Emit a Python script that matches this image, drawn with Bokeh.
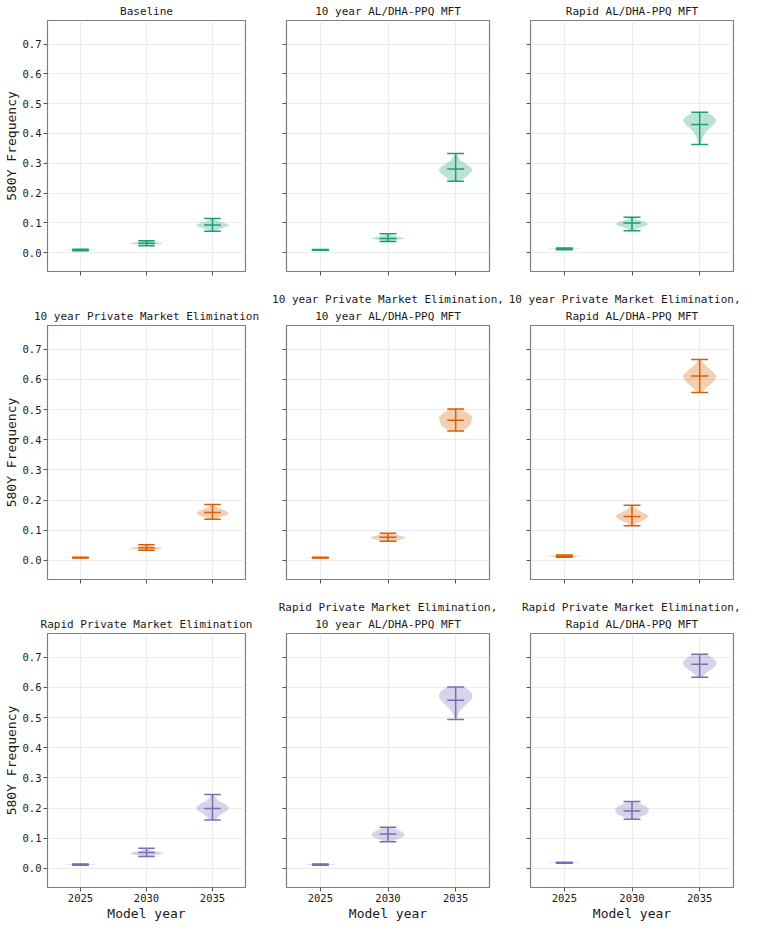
from bokeh.plotting import figure
from bokeh.layouts import column, row
from bokeh.models import Range1d, FixedTicker, CustomJSTickFormatter, NumeralTickFormatter, Title
from bokeh.embed import file_html
from bokeh.resources import INLINE

# ---------------- data ----------------
years = [2025, 2030, 2035]
y_ticks = [0.0, 0.1, 0.2, 0.3, 0.4, 0.5, 0.6, 0.7]

panel_titles = [
    "Baseline",
    "10 year AL/DHA-PPQ MFT",
    "Rapid AL/DHA-PPQ MFT",
    "10 year Private Market Elimination",
    "10 year Private Market Elimination,\n10 year AL/DHA-PPQ MFT",
    "10 year Private Market Elimination,\nRapid AL/DHA-PPQ MFT",
    "Rapid Private Market Elimination",
    "Rapid Private Market Elimination,\n10 year AL/DHA-PPQ MFT",
    "Rapid Private Market Elimination,\nRapid AL/DHA-PPQ MFT",
]

# 580Y frequency per panel, per model year (2025, 2030, 2035)
freq_min = [
    [0.007, 0.023, 0.072],
    [0.008, 0.038, 0.240],
    [0.010, 0.074, 0.363],
    [0.008, 0.034, 0.137],
    [0.008, 0.064, 0.429],
    [0.011, 0.115, 0.557],
    [0.011, 0.040, 0.161],
    [0.011, 0.089, 0.494],
    [0.017, 0.163, 0.634],
]
freq_median = [
    [0.010, 0.032, 0.093],
    [0.0095, 0.048, 0.281],
    [0.013, 0.100, 0.430],
    [0.009, 0.042, 0.159],
    [0.009, 0.077, 0.465],
    [0.014, 0.146, 0.612],
    [0.013, 0.053, 0.199],
    [0.013, 0.114, 0.558],
    [0.019, 0.191, 0.677],
]
freq_max = [
    [0.012, 0.040, 0.115],
    [0.011, 0.064, 0.333],
    [0.016, 0.119, 0.471],
    [0.011, 0.052, 0.186],
    [0.011, 0.090, 0.502],
    [0.018, 0.183, 0.666],
    [0.015, 0.067, 0.245],
    [0.015, 0.137, 0.602],
    [0.021, 0.222, 0.710],
]
# relative violin half-widths, from min (first) to max (last)
small_profile = [0.15, 0.35, 0.65, 0.9, 1.0, 0.85, 0.55, 0.3, 0.1]
violin_profile = [
    [small_profile, [0.1, 0.3, 0.6, 0.9, 1.0, 0.8, 0.5, 0.25, 0.1], [0.1, 0.3, 0.6, 0.9, 1.0, 0.75, 0.45, 0.2, 0.08]],
    [small_profile, [0.1, 0.35, 0.7, 1.0, 0.8, 0.5, 0.3, 0.15, 0.05], [0.3, 0.55, 0.8, 1.0, 0.9, 0.6, 0.3, 0.15, 0.05]],
    [small_profile, [0.1, 0.25, 0.5, 0.8, 1.0, 0.8, 0.5, 0.25, 0.08], [0.08, 0.12, 0.2, 0.35, 0.55, 0.85, 1.0, 0.8, 0.35]],
    [small_profile, [0.2, 0.5, 0.85, 1.0, 0.8, 0.5, 0.3, 0.15, 0.05], [0.2, 0.45, 0.8, 1.0, 0.9, 0.65, 0.4, 0.2, 0.08]],
    [small_profile, [0.3, 0.6, 0.85, 1.0, 1.0, 0.85, 0.6, 0.35, 0.15], [0.4, 0.65, 0.85, 0.9, 0.95, 1.0, 0.85, 0.6, 0.35]],
    [small_profile, [0.1, 0.3, 0.6, 0.9, 1.0, 0.7, 0.4, 0.2, 0.05], [0.15, 0.35, 0.65, 0.9, 1.0, 0.8, 0.5, 0.25, 0.08]],
    [small_profile, [0.15, 0.45, 0.8, 1.0, 0.85, 0.55, 0.3, 0.15, 0.05], [0.15, 0.35, 0.6, 0.9, 1.0, 0.75, 0.4, 0.2, 0.08]],
    [small_profile, [0.2, 0.45, 0.75, 0.95, 1.0, 0.9, 0.7, 0.45, 0.2], [0.05, 0.12, 0.25, 0.45, 0.7, 0.95, 1.0, 0.85, 0.5]],
    [small_profile, [0.2, 0.5, 0.8, 0.95, 1.0, 0.95, 0.8, 0.5, 0.25], [0.15, 0.3, 0.5, 0.75, 0.95, 1.0, 0.9, 0.7, 0.4]],
]

row_colors = ["#1b9e77", "#d95f02", "#7570b3"]

# ---------------- style ----------------
FONT = "DejaVu Sans Mono"
TEXT = "#1a1a1a"
VIOLIN_HALF = 1.25
CAP_HALF = 0.625
FRAME_W, FRAME_H = 203, 254
LEFTS = [42, 21, 25]
RIGHTS = [20, 16, 9]
TOPS = [17, 36, 36]
BOTTOMS = [18, 18, 36]


def violin_shape(x, lo, hi, prof):
    n = len(prof)
    levels = [lo + (hi - lo) * k / (n - 1) for k in range(n)]
    xs = [x + VIOLIN_HALF * w for w in prof] + [x - VIOLIN_HALF * w for w in reversed(prof)]
    ys = levels + levels[::-1]
    return xs, ys


def style_title(t, standoff, align="center", offset=0):
    t.align = align
    t.text_font = FONT
    t.text_font_size = "11px"
    t.text_font_style = "normal"
    t.text_color = TEXT
    t.standoff = standoff
    t.offset = offset


rows = []
for r in range(3):
    figs = []
    for c in range(3):
        i = r * 3 + c
        color = row_colors[r]
        p = figure(
            width=LEFTS[c] + FRAME_W + RIGHTS[c],
            height=TOPS[r] + FRAME_H + BOTTOMS[r],
            x_range=Range1d(2022.5, 2037.5),
            y_range=Range1d(-0.063, 0.779),
            output_backend="svg",
            toolbar_location=None,
            min_border_left=LEFTS[c],
            min_border_right=RIGHTS[c],
            min_border_top=TOPS[r],
            min_border_bottom=BOTTOMS[r],
        )
        lines = panel_titles[i].split("\n")
        # the figure's own title is the outermost line; added titles sit nearer the frame
        p.title.text = lines[0]
        if c == 2 and len(lines) > 1:
            # long first line: right-align just past the frame so it stays on the page
            style_title(p.title, 0, align="right", offset=-7)
        else:
            style_title(p.title, 5 if len(lines) == 1 else 0)
        for extra in lines[1:]:
            t = Title(text=extra)
            style_title(t, 5)
            p.add_layout(t, "above")

        p.outline_line_color = "#7f7f7f"
        p.outline_line_width = 1.2
        p.background_fill_color = "white"
        p.border_fill_color = "white"

        for g in (p.xgrid, p.ygrid):
            g.grid_line_color = "#ebebeb"
            g.grid_line_width = 1

        p.xaxis.ticker = FixedTicker(ticks=years)
        p.yaxis.ticker = FixedTicker(ticks=y_ticks)
        for ax in (p.xaxis, p.yaxis):
            ax.axis_line_color = None
            ax.major_tick_in = 0
            ax.major_tick_out = 4
            ax.major_tick_line_color = "#555555"
            ax.minor_tick_line_color = None
            ax.major_label_text_font = FONT
            ax.major_label_text_font_size = "10.5px"
            ax.major_label_text_color = TEXT
            ax.major_label_standoff = 2
            ax.axis_label_text_font = FONT
            ax.axis_label_text_font_size = "13px"
            ax.axis_label_text_font_style = "normal"
            ax.axis_label_text_color = TEXT
            ax.axis_label_standoff = 1

        if c == 0:
            p.yaxis.formatter = NumeralTickFormatter(format="0.0")
            p.yaxis.axis_label = "580Y Frequency"
        else:
            p.yaxis.formatter = CustomJSTickFormatter(code="return ''")
        if r == 2:
            p.xaxis.axis_label = "Model year"
        else:
            p.xaxis.formatter = CustomJSTickFormatter(code="return ''")

        vx, vy = [], []
        for j, yr in enumerate(years):
            xs, ys = violin_shape(yr, freq_min[i][j], freq_max[i][j], violin_profile[i][j])
            vx.append(xs)
            vy.append(ys)
        p.patches(vx, vy, fill_color=color, fill_alpha=0.3, line_color=None)

        lo = freq_min[i]
        hi = freq_max[i]
        md = freq_median[i]
        p.segment(x0=years, y0=lo, x1=years, y1=hi, line_color=color, line_width=1.5)
        for vals in (lo, hi, md):
            p.segment(x0=[y - CAP_HALF for y in years], y0=vals,
                      x1=[y + CAP_HALF for y in years], y1=vals,
                      line_color=color, line_width=1.5)
        figs.append(p)
    rows.append(row(*figs, spacing=0))

layout = column(*rows, spacing=0)

open("out.html", "w").write(file_html(layout, INLINE))
